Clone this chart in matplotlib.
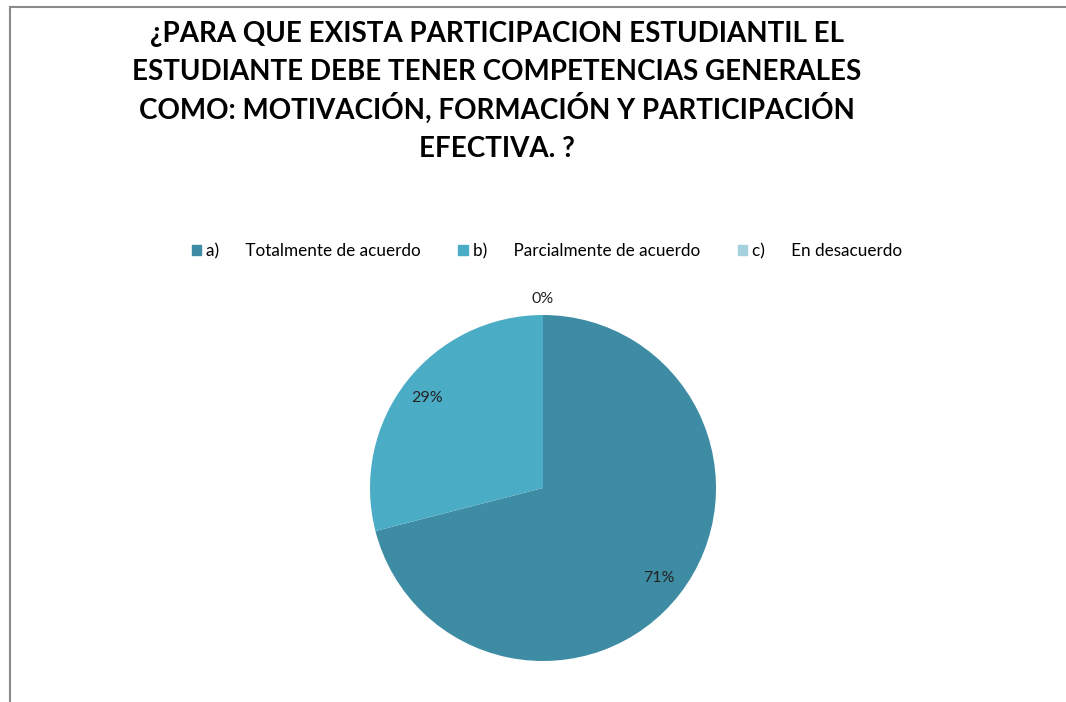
import matplotlib
matplotlib.use("Agg")
import matplotlib.pyplot as plt
from matplotlib.lines import Line2D
import numpy as np

title_lines = ["¿PARA QUE EXISTA PARTICIPACION ESTUDIANTIL EL",
               "ESTUDIANTE DEBE TENER COMPETENCIAS GENERALES",
               "COMO: MOTIVACIÓN, FORMACIÓN Y PARTICIPACIÓN",
               "EFECTIVA. ?"]
letters = ["a)", "b)", "c)"]
labels = ["Totalmente de acuerdo", "Parcialmente de acuerdo", "En desacuerdo"]
values = [71, 29, 0]
colors = ["#3d8ca3", "#4bacc6", "#a5d1dd"]

fnt = ["Lato", "DejaVu Sans"]

fig = plt.figure(figsize=(10.66, 7.02), dpi=100)

# frame lines (top and left) like the original chart box
fig.add_artist(Line2D([10/1066, 1], [1 - 7/702, 1 - 7/702], color="#8a8a8a", lw=1.5))
fig.add_artist(Line2D([10/1066, 10/1066], [0, 1 - 7/702], color="#8a8a8a", lw=1.5))

# title, one line at a time so the spacing stays even
for i, line in enumerate(title_lines):
    fig.text(497/1066, 1 - (42 + 38.3 * i)/702, line, ha="center", va="baseline",
             fontsize=20, fontweight="bold", family=fnt, color="#000000")

ax = fig.add_axes([370/1066, 41/702, 346/1066, 346/702])
wedges, texts, autotexts = ax.pie(values, colors=colors, startangle=90, counterclock=False,
                                  autopct="%1.0f%%", pctdistance=0.85,
                                  wedgeprops=dict(linewidth=0),
                                  textprops=dict(fontsize=11.5, family=fnt, color="#222222"))
# 0% slice label sits outside the pie
for w, t, v in zip(wedges, autotexts, values):
    if v == 0:
        ang = np.deg2rad((w.theta1 + w.theta2) / 2)
        t.set_position((1.09 * np.cos(ang), 1.09 * np.sin(ang)))
ax.set_xlim(-1, 1)
ax.set_ylim(-1, 1)
ax.set_aspect("equal")

handles = [plt.Rectangle((0, 0), 1, 1, color=c) for c in colors]
leg_labels = [f"{l}      {t}" for l, t in zip(letters, labels)]
fig.legend(handles, leg_labels, loc="center", bbox_to_anchor=(547/1066, 1 - 251/702),
           ncol=3, frameon=False, prop=dict(family=fnt, size=12.3),
           handlelength=0.55, handleheight=0.55, handletextpad=0.3, columnspacing=2.2)

fig.savefig("out.png", dpi=100)
